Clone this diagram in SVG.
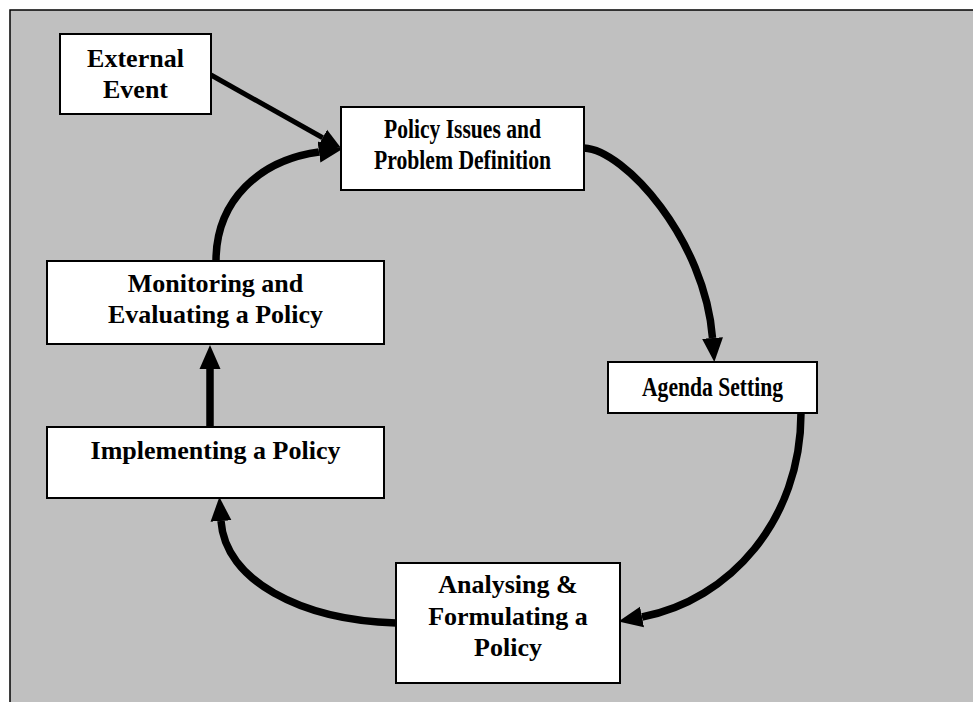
<svg xmlns="http://www.w3.org/2000/svg" width="973" height="702" viewBox="0 0 973 702">
  <style>
    .box { fill: #ffffff; stroke: #000000; stroke-width: 2; }
    .lbl { font-family: "Liberation Serif", "Times New Roman", serif; font-weight: bold; font-size: 26px; fill: #000000; text-anchor: middle; }
    .cond { font-size: 27.5px; }
    .conn { fill: none; stroke: #000000; stroke-width: 7.5; stroke-linecap: butt; }
    .thin { fill: none; stroke: #000000; stroke-width: 5; }
  </style>
  <defs>
    <marker id="ah" markerUnits="userSpaceOnUse" markerWidth="30" markerHeight="30" refX="0" refY="15" orient="auto" viewBox="0 0 30 30">
      <path d="M0,4.5 L24,15 L0,25.5 z" fill="#000000"/>
    </marker>
    <marker id="ahs" markerUnits="userSpaceOnUse" markerWidth="30" markerHeight="30" refX="0" refY="15" orient="auto" viewBox="0 0 30 30">
      <path d="M0,6 L21,15 L0,24 z" fill="#000000"/>
    </marker>
  </defs>
  <rect x="0" y="0" width="973" height="702" fill="#ffffff"/>
  <rect x="10" y="10" width="975" height="705" fill="#c0c0c0" stroke="#000000" stroke-width="1.5"/>

  <g id="connectors">
    <path class="thin" d="M211,75 L322.7,137.7" marker-end="url(#ahs)"/>
    <path class="conn" d="M584,148 C625,150 705,240 712.5,338" marker-end="url(#ah)"/>
    <path class="conn" d="M801,413 C801,520 730,600 642,617" marker-end="url(#ah)"/>
    <path class="conn" d="M396,623 C300,620 225,580 221,521" marker-end="url(#ah)"/>
    <path class="conn" d="M210,427 L210,369" marker-end="url(#ah)"/>
    <path class="conn" d="M216,261 C216,200 260,160 319,152" marker-end="url(#ah)"/>
  </g>

  <g id="external-event">
    <rect class="box" x="60" y="34" width="151" height="80"/>
    <text class="lbl" x="135.5" y="67">External</text>
    <text class="lbl" x="135.5" y="98">Event</text>
  </g>

  <g id="policy-issues">
    <rect class="box" x="341" y="107" width="243" height="83"/>
    <text class="lbl cond" x="462.5" y="138" textLength="157" lengthAdjust="spacingAndGlyphs">Policy Issues and</text>
    <text class="lbl cond" x="462.5" y="169" textLength="177" lengthAdjust="spacingAndGlyphs">Problem Definition</text>
  </g>

  <g id="agenda-setting">
    <rect class="box" x="608" y="362" width="209" height="51"/>
    <text class="lbl cond" x="712.5" y="396" textLength="141" lengthAdjust="spacingAndGlyphs">Agenda Setting</text>
  </g>

  <g id="analysing">
    <rect class="box" x="396" y="563" width="224" height="120"/>
    <text class="lbl" x="508" y="593">Analysing &amp;</text>
    <text class="lbl" x="508" y="625">Formulating a</text>
    <text class="lbl" x="508" y="656">Policy</text>
  </g>

  <g id="implementing">
    <rect class="box" x="47" y="427" width="337" height="71"/>
    <text class="lbl" x="215.5" y="459">Implementing a Policy</text>
  </g>

  <g id="monitoring">
    <rect class="box" x="47" y="261" width="337" height="83"/>
    <text class="lbl" x="215.5" y="292">Monitoring and</text>
    <text class="lbl" x="215.5" y="323">Evaluating a Policy</text>
  </g>
</svg>
